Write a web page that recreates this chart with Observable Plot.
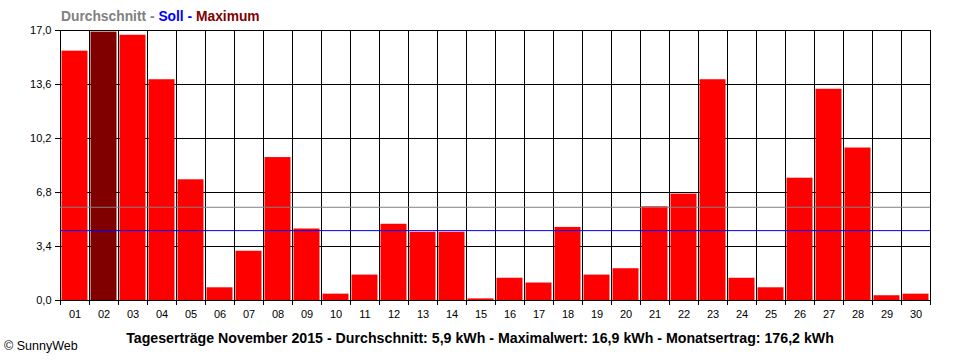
<!DOCTYPE html>
<html>
<head>
<meta charset="utf-8">
<script src="https://cdn.jsdelivr.net/npm/d3@7"></script>
<script src="https://cdn.jsdelivr.net/npm/@observablehq/plot@0.6"></script>
<style>
  body { margin: 0; background: #fff; }
  #wrap { position: relative; width: 960px; height: 360px; font-family: "Liberation Sans", Arial, sans-serif; }
  #legend { position: absolute; left: 61px; top: 10px; font-size: 13.8px; font-weight: bold; line-height: 14px; white-space: nowrap; }
  #caption { position: absolute; left: 0; width: 960px; top: 331px; text-align: center; font-size: 14.2px; font-weight: bold; line-height: 14px; white-space: nowrap; }
  #copy { position: absolute; left: 4px; top: 340px; font-size: 12.5px; line-height: 12px; white-space: nowrap; }
</style>
</head>
<body>
<div id="wrap">
  <div id="chart"></div>
  <div id="legend"><span style="color:#808080">Durchschnitt</span> <span style="color:#808080">-</span> <span style="color:#0000ff">Soll</span> <span style="color:#0000ff">-</span> <span style="color:#800000">Maximum</span></div>
  <div id="caption">Tageserträge November 2015 - Durchschnitt: 5,9 kWh - Maximalwert: 16,9 kWh - Monatsertrag: 176,2 kWh</div>
  <div id="copy">© SunnyWeb</div>
</div>
<script>
const dayLabels = ["01","02","03","04","05","06","07","08","09","10","11","12","13","14","15","16","17","18","19","20","21","22","23","24","25","26","27","28","29","30"];
const yields = [15.7,16.9,16.7,13.9,7.6,0.8,3.1,9.0,4.5,0.4,1.6,4.8,4.3,4.3,0.1,1.4,1.1,4.6,1.6,2.0,5.9,6.7,13.9,1.4,0.8,7.7,13.3,9.6,0.3,0.4];
const yTicks = [0, 3.4, 6.8, 10.2, 13.6, 17.0];
const average = 5.87;
const target = 4.4;
const maxValue = 16.9;

const data = dayLabels.map((label, i) => ({day: i + 1, label, value: yields[i]}));
const bounds = d3.range(0, dayLabels.length + 1).map(i => i + 0.5);
const fmt = v => d3.format(".1f")(v).replace(".", ",");

const chart = Plot.plot({
  width: 960,
  height: 360,
  marginLeft: 60,
  marginRight: 30,
  marginTop: 30,
  marginBottom: 60,
  style: {fontFamily: "'Liberation Sans', Arial, sans-serif", fontSize: "11px", color: "#000", background: "#fff"},
  x: {type: "linear", domain: [0.5, dayLabels.length + 0.5]},
  y: {domain: [0, 17]},
  marks: [
    Plot.ruleY(yTicks, {stroke: "#000", strokeWidth: 1}),
    Plot.ruleX(bounds, {stroke: "#000", strokeWidth: 1}),
    Plot.rectY(data, {
      x1: d => d.day - 0.5,
      x2: d => d.day + 0.5,
      y1: 0,
      y2: "value",
      insetLeft: 1.5,
      insetRight: 1.5,
      fill: d => d.value === maxValue ? "#800000" : "#ff0000"
    }),
    Plot.ruleY([average], {stroke: "#808080", strokeWidth: 1}),
    Plot.ruleY([target], {stroke: "#0000ff", strokeWidth: 1}),
    Plot.axisY(yTicks, {tickSize: 5, tickPadding: 4, tickFormat: fmt, label: null, fill: "#000", stroke: "#000"}),
    Plot.axisX(bounds, {tickSize: 5, tickFormat: () => "", label: null, stroke: "#000"}),
    Plot.axisX(data.map(d => d.day), {tickSize: 0, tickPadding: 10, tickFormat: d => dayLabels[d - 1], label: null, fill: "#000"})
  ]
});
document.getElementById("chart").append(chart);
</script>
</body>
</html>
